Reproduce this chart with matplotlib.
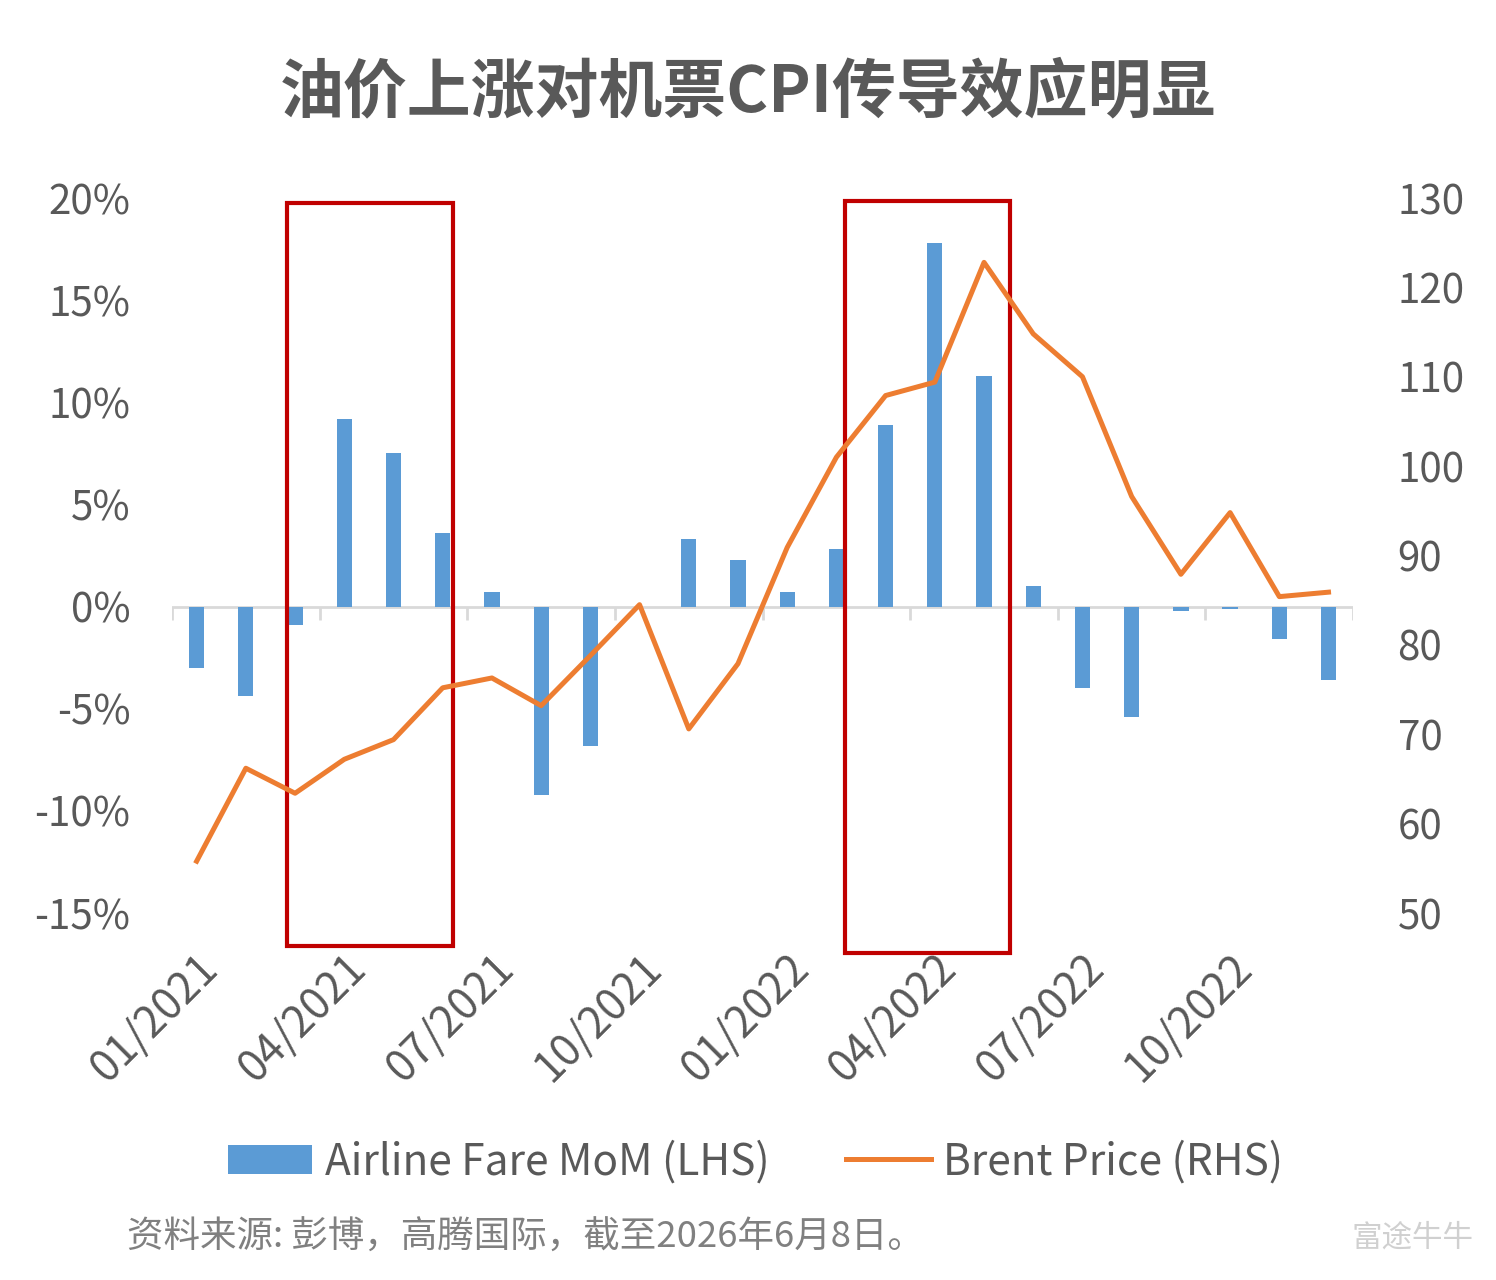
import numpy as np
import matplotlib.pyplot as plt
from matplotlib.patches import Rectangle
from matplotlib.transforms import blended_transform_factory, ScaledTranslation

plt.rcParams['font.family'] = ['Noto Sans CJK SC', 'DejaVu Sans']

# monthly data, 01/2021 - 12/2022
months = ['01/2021', '02/2021', '03/2021', '04/2021', '05/2021', '06/2021',
          '07/2021', '08/2021', '09/2021', '10/2021', '11/2021', '12/2021',
          '01/2022', '02/2022', '03/2022', '04/2022', '05/2022', '06/2022',
          '07/2022', '08/2022', '09/2022', '10/2022', '11/2022', '12/2022']
airline_mom = [-3.0, -4.4, -0.9, 9.2, 7.5, 3.6, 0.7, -9.2, -6.8, 0.0, 3.3, 2.3,
               0.7, 2.8, 8.9, 17.8, 11.3, 1.0, -4.0, -5.4, -0.2, -0.1, -1.6, -3.6]
brent = [55.8, 66.2, 63.4, 67.2, 69.4, 75.2, 76.3, 73.2, 78.8, 84.5, 70.6, 77.9,
         90.9, 101.0, 107.9, 109.4, 122.8, 114.8, 110.0, 96.6, 87.9, 94.8, 85.4, 85.9]

# highlighted windows: x edges in category units, y edges in axes fraction
box_x = [(1.84, 5.21), (13.18, 16.53)]
box_y = [(-0.046, 0.993), (-0.056, 0.996)]

grey = '#595959'
x = np.arange(len(months))

fig = plt.figure(figsize=(14.96, 12.8), dpi=100)
ax = fig.add_axes([0.115, 0.2867, 0.7895, 0.5586])
ax2 = ax.twinx()

ax.bar(x, airline_mom, width=0.31, color='#5B9BD5', label='Airline Fare MoM (LHS)', zorder=2)
ax2.plot(x, brent, color='#ED7D31', lw=3.6, label='Brent Price (RHS)', zorder=3)

ax.set_xlim(-0.5, len(months) - 0.5)
ax.set_ylim(-15, 20)
ax2.set_ylim(50, 130)
ax.set_yticks(np.arange(-15, 21, 5))
ax.set_yticklabels([f'{v}%' for v in range(-15, 21, 5)])
ax2.set_yticks(np.arange(50, 131, 10))

# zero line with category separators
ax.axhline(0, color='#d9d9d9', lw=2, zorder=1)
ax.vlines(np.arange(-0.5, len(months), 3), -0.65, 0, color='#d9d9d9', lw=2, zorder=1)

ax.set_xticks(x[::3])
ax.set_xticklabels(months[::3], rotation=45, ha='right', rotation_mode='anchor')
shift = ScaledTranslation(-10 / 100, 0, fig.dpi_scale_trans)
for lbl in ax.get_xticklabels():
    lbl.set_transform(lbl.get_transform() + shift)

for a in (ax, ax2):
    for s in a.spines.values():
        s.set_visible(False)
    a.tick_params(length=0, labelsize=29, colors=grey)
ax.tick_params(axis='y', pad=30)
ax.tick_params(axis='x', pad=24, labelsize=31)
ax2.tick_params(axis='y', pad=32)

# red highlight boxes
tr = blended_transform_factory(ax.transData, ax.transAxes)
for (x0, x1), (y0, y1) in zip(box_x, box_y):
    ax.add_patch(Rectangle((x0, y0), x1 - x0, y1 - y0, transform=tr,
                           fill=False, ec='#C00000', lw=3, clip_on=False, zorder=5))

fig.text(0.5, 0.928, '油价上涨对机票CPI传导效应明显', ha='center', va='center',
         fontsize=46, fontweight='bold', color=grey)

h1, l1 = ax.get_legend_handles_labels()
h2, l2 = ax2.get_legend_handles_labels()
fig.legend(h1 + h2, l1 + l2, loc='center', bbox_to_anchor=(0.505, 0.092), ncol=2,
           frameon=False, fontsize=30.5, labelcolor=grey, handlelength=2.0,
           handletextpad=0.3, columnspacing=1.8)

fig.text(0.085, 0.033, '资料来源: 彭博，高腾国际，截至2026年6月8日。', ha='left', va='center',
         fontsize=26.3, color='#808080')
fig.text(0.985, 0.033, '富途牛牛', ha='right', va='center', fontsize=22, color='#d0d0d0')

fig.savefig('out.png', dpi=100)
